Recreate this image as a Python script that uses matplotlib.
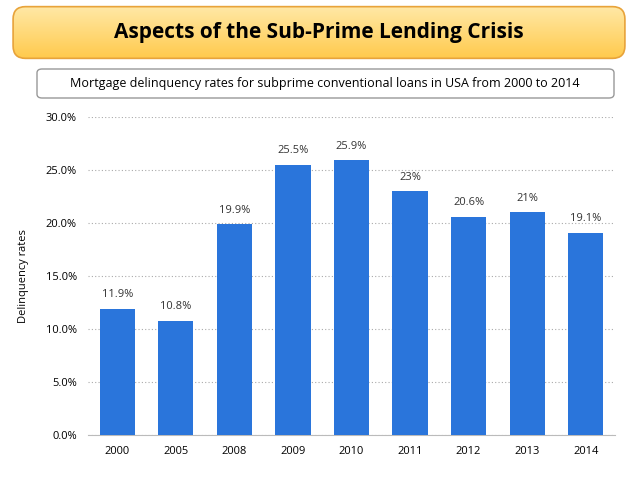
import matplotlib
matplotlib.use("Agg")
import matplotlib.pyplot as plt
from matplotlib.patches import FancyBboxPatch
import numpy as np

years = ["2000", "2005", "2008", "2009", "2010", "2011", "2012", "2013", "2014"]
rates = [11.9, 10.8, 19.9, 25.5, 25.9, 23.0, 20.6, 21.0, 19.1]
labels = ["11.9%", "10.8%", "19.9%", "25.5%", "25.9%", "23%", "20.6%", "21%", "19.1%"]
yticks = [0, 5, 10, 15, 20, 25, 30]

plt.rcParams["font.family"] = "Open Sans"
fig = plt.figure(figsize=(6.38, 4.79), dpi=100)
W, H = 638, 479

# title box with gradient
grad_ax = fig.add_axes([10/W, 1-60/H, 618/W, 55/H])
grad_ax.axis("off")
g = np.linspace(0, 1, 100).reshape(-1, 1)
from matplotlib.colors import LinearSegmentedColormap
cm = LinearSegmentedColormap.from_list("o", ["#FFE9A8", "#FFC94A"])
img = grad_ax.imshow(g, aspect="auto", cmap=cm, extent=[0, 1, 0, 1])
patch = FancyBboxPatch((0.005, 0.03), 0.99, 0.94, boxstyle="round,pad=0,rounding_size=0.02",
                       transform=grad_ax.transAxes, fc="none", ec="#E8A33A", lw=1.2,
                       mutation_aspect=618/55)
grad_ax.add_patch(patch)
img.set_clip_path(patch)
grad_ax.text(0.5, 0.5, "Aspects of the Sub-Prime Lending Crisis", ha="center", va="center",
             fontsize=15, fontweight="bold", transform=grad_ax.transAxes)

# subtitle box
fig.patches.append(FancyBboxPatch((37/W, 1-98/H), 577/W, 29/H,
                   boxstyle="round,pad=0,rounding_size=0.008", transform=fig.transFigure,
                   fc="white", ec="#999999", lw=1))
fig.text(325/W, 1-83/H, "Mortgage delinquency rates for subprime conventional loans in USA from 2000 to 2014",
         ha="center", va="center", fontsize=9)

ax = fig.add_axes([88/W, 1-435/H, 527/W, 318/H])
x = np.arange(len(years))
ax.bar(x, rates, width=0.6, color="#2A75DB", zorder=3)
for xi, r, l in zip(x, rates, labels):
    ax.text(xi, r + 0.8, l, ha="center", va="bottom", fontsize=8, color="#333333")
ax.set_ylim(0, 30)
ax.set_xlim(-0.5, len(years) - 0.5)
ax.set_yticks(yticks)
ax.set_yticklabels([f"{v:.1f}%" for v in yticks], fontsize=8)
ax.set_xticks(x)
ax.set_xticklabels(years, fontsize=8)
ax.grid(axis="y", linestyle=(0, (1, 2)), color="#AAAAAA", lw=0.8, zorder=0)
for s in ["top", "right", "left"]:
    ax.spines[s].set_visible(False)
ax.spines["bottom"].set_color("#BBBBBB")
ax.tick_params(length=0, pad=8)
ax.set_ylabel("Delinquency rates", fontsize=8, labelpad=12)

fig.savefig("out.png", dpi=100)
